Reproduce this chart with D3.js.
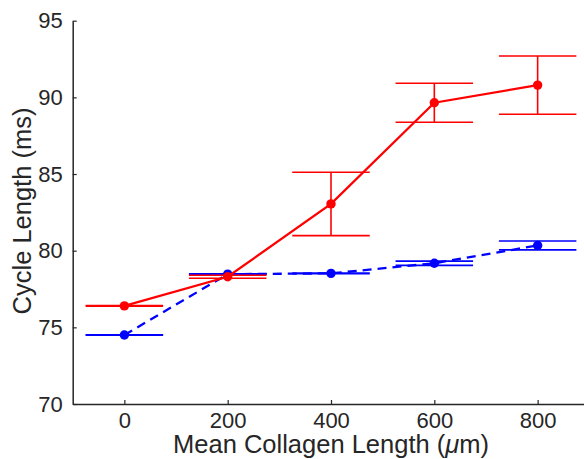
<!DOCTYPE html>
<html>
<head>
<meta charset="utf-8">
<script src="https://cdn.jsdelivr.net/npm/d3@7"></script>
<style>
  body { margin: 0; background: #fff; }
  text { font-family: "Liberation Sans", Arial, sans-serif; fill: #262626; }
</style>
</head>
<body>
<div id="app"></div>
<script>
'use strict'

// collagen lengths (um)
const lengths = [0, 200, 400, 600, 800]

// red series (solid)
const redMean = [76.4, 78.3, 83.05, 89.65, 90.8]
const redErr = [0.02, 0.1, 2.07, 1.27, 1.9]

// blue series (dashed)
const blueMean = [74.5, 78.47, 78.52, 79.18, 80.34]
const blueErr = [0.02, 0.02, 0.02, 0.14, 0.29]

const yTicks = [70, 75, 80, 85, 90, 95]
const xTicks = [0, 200, 400, 600, 800]

const W = 584, H = 459

const x = d3.scaleLinear().domain([-100, 900]).range([72.7, 589.3])
const y = d3.scaleLinear().domain([70, 95]).range([404, 20.7])
const capHalf = 75 // half cap width, data units

const svg = d3.select('#app').append('svg')
  .attr('width', W)
  .attr('height', H)

const axisColor = '#262626'

// axes
const gx = svg.append('g')
  .attr('transform', `translate(0, ${y(70)})`)
  .call(d3.axisBottom(x).tickValues(xTicks).tickSizeInner(-4).tickSizeOuter(0).tickPadding(8))
gx.select('.domain').attr('stroke', axisColor).attr('stroke-width', 1.5)
gx.selectAll('.tick line').attr('stroke', axisColor).attr('stroke-width', 1.2)
gx.selectAll('.tick text').attr('font-size', 22).attr('fill', axisColor)
  .attr('font-family', '"Liberation Sans", Arial, sans-serif')

const gy = svg.append('g')
  .attr('transform', `translate(${x(-100)}, 0)`)
  .call(d3.axisLeft(y).tickValues(yTicks).tickSizeInner(-4).tickSizeOuter(0).tickPadding(10))
gy.select('.domain').attr('stroke', axisColor).attr('stroke-width', 1.5)
gy.selectAll('.tick line').attr('stroke', axisColor).attr('stroke-width', 1.2)
gy.selectAll('.tick text').attr('font-size', 22).attr('fill', axisColor)
  .attr('font-family', '"Liberation Sans", Arial, sans-serif')

// axis titles
const xt = svg.append('text')
  .attr('x', x(400))
  .attr('y', 453)
  .attr('text-anchor', 'middle')
  .attr('font-size', 25.5)
xt.append('tspan').text('Mean Collagen Length (')
xt.append('tspan').attr('font-style', 'italic').text('\u03bc')
xt.append('tspan').text('m)')

svg.append('text')
  .attr('transform', `translate(31, 211) rotate(-90)`)
  .attr('text-anchor', 'middle')
  .attr('font-size', 25.5)
  .text('Cycle Length (ms)')

/*
 * draw one series: error bars, line, markers
 */
const drawSeries = (means, errs, color, dash) => {
  const data = lengths.map((l, i) => ({ l, m: means[i], e: errs[i] }))
  const g = svg.append('g')

  const eb = g.selectAll('.eb').data(data).enter().append('g')
    .attr('stroke', color)
    .attr('stroke-width', 1.6)
    .attr('fill', 'none')
  eb.append('line')
    .attr('x1', d => x(d.l)).attr('x2', d => x(d.l))
    .attr('y1', d => y(d.m - d.e)).attr('y2', d => y(d.m + d.e))
  eb.append('line')
    .attr('x1', d => x(d.l - capHalf)).attr('x2', d => x(d.l + capHalf))
    .attr('y1', d => y(d.m + d.e)).attr('y2', d => y(d.m + d.e))
  eb.append('line')
    .attr('x1', d => x(d.l - capHalf)).attr('x2', d => x(d.l + capHalf))
    .attr('y1', d => y(d.m - d.e)).attr('y2', d => y(d.m - d.e))

  const line = d3.line().x(d => x(d.l)).y(d => y(d.m))
  g.append('path')
    .datum(data)
    .attr('d', line)
    .attr('fill', 'none')
    .attr('stroke', color)
    .attr('stroke-width', 2.3)
    .attr('stroke-dasharray', dash)

  g.selectAll('.pt').data(data).enter().append('circle')
    .attr('cx', d => x(d.l))
    .attr('cy', d => y(d.m))
    .attr('r', 4.7)
    .attr('fill', color)
}

drawSeries(blueMean, blueErr, '#0000ff', '9,6')
drawSeries(redMean, redErr, '#ff0000', null)
</script>
</body>
</html>
